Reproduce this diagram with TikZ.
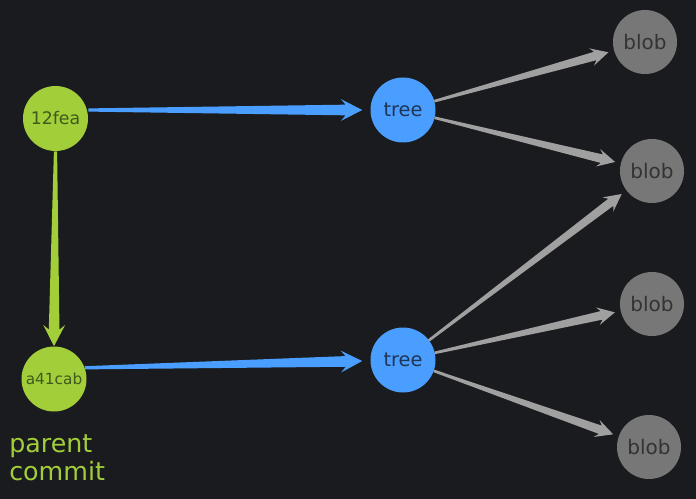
\documentclass[tikz,border=0pt]{standalone}
\usepackage{fontspec}
\setmainfont{DejaVu Sans}
\usetikzlibrary{calc}

\definecolor{bg}{HTML}{1A1B1E}
\definecolor{gitgreen}{HTML}{A2CE3A}
\definecolor{greenink}{HTML}{3F5A1C}
\definecolor{gitblue}{HTML}{4A9EFF}
\definecolor{blueink}{HTML}{1E3556}
\definecolor{blobgrey}{HTML}{777777}
\definecolor{blobink}{HTML}{333333}
\definecolor{edgegrey}{HTML}{A0A0A0}

% tapered arrow: colour, size, start, tip
\newcommand{\taper}[4]{%
  \path (#3) coordinate (ta) (#4) coordinate (tb);
  \path ($(tb)!{#2*16pt}!(ta)$) coordinate (tc)
        ($(tb)!{#2*12.5pt}!(ta)$) coordinate (td);
  \fill[#1] ($(ta)!{#2*1.2pt}!90:(tb)$) -- ($(td)!{#2*4pt}!90:(tb)$)
    -- ($(tc)!{#2*8.2pt}!90:(tb)$) -- (tb)
    -- ($(tc)!{#2*8.2pt}!-90:(tb)$) -- ($(td)!{#2*4pt}!-90:(tb)$)
    -- ($(ta)!{#2*1.2pt}!-90:(tb)$) -- cycle;
}
% centre to centre link between two round nodes
\newcommand{\link}[4]{\taper{#1}{#2}{$(#3)!24.4pt!(#4)$}{$(#4)!28.5pt!(#3)$}}

\begin{document}
\begin{tikzpicture}[x=0.75pt,y=-0.75pt]
  \tikzset{ commit/.style={circle,fill=gitgreen,text=greenink,inner sep=0pt,minimum size=48.75pt},
    treenode/.style={circle,fill=gitblue,text=blueink,inner sep=0pt,minimum size=48.75pt,font=\fontsize{14.5}{17}\selectfont},
    blobnode/.style={circle,fill=blobgrey,text=blobink,inner sep=0pt,minimum size=48pt,font=\fontsize{15}{17}\selectfont},
  }
  \fill[bg] (0,0) rectangle (696,499);
  \useasboundingbox (0,0) rectangle (696,499);

  \node[commit,font=\fontsize{13}{15}\selectfont] (c1) at (55.5,118.5) {12fea};
  \node[commit,font=\fontsize{11.5}{14}\selectfont] (c2) at (54,379) {a41cab};
  \node[treenode] (t1) at (403,110) {tree};
  \node[treenode] (t2) at (403,360) {tree};
  \node[blobnode] (b1) at (645,42) {blob};
  \node[blobnode] (b2) at (652,171) {blob};
  \node[blobnode] (b3) at (652,304) {blob};
  \node[blobnode] (b4) at (649,447) {blob};
  \node[anchor=north west,align=left,inner sep=0pt,text=gitgreen,
    font=\fontsize{19}{21}\selectfont] (pc) at (9,434) {parent\\commit};

  \taper{gitgreen}{1}{c1.south}{c2.north}
  \taper{gitblue}{1}{c1.east |- t1}{$(t1.west)+(-6pt,0)$}
  \taper{gitblue}{1}{c2.20}{$(t2.west)+(-6pt,-0.75pt)$}
  \link{edgegrey}{0.82}{t1}{b1}
  \link{edgegrey}{0.82}{t1}{b2}
  \link{edgegrey}{0.82}{t2}{b2}
  \link{edgegrey}{0.82}{t2}{b3}
  \link{edgegrey}{0.82}{t2}{b4}
\end{tikzpicture}
\end{document}
